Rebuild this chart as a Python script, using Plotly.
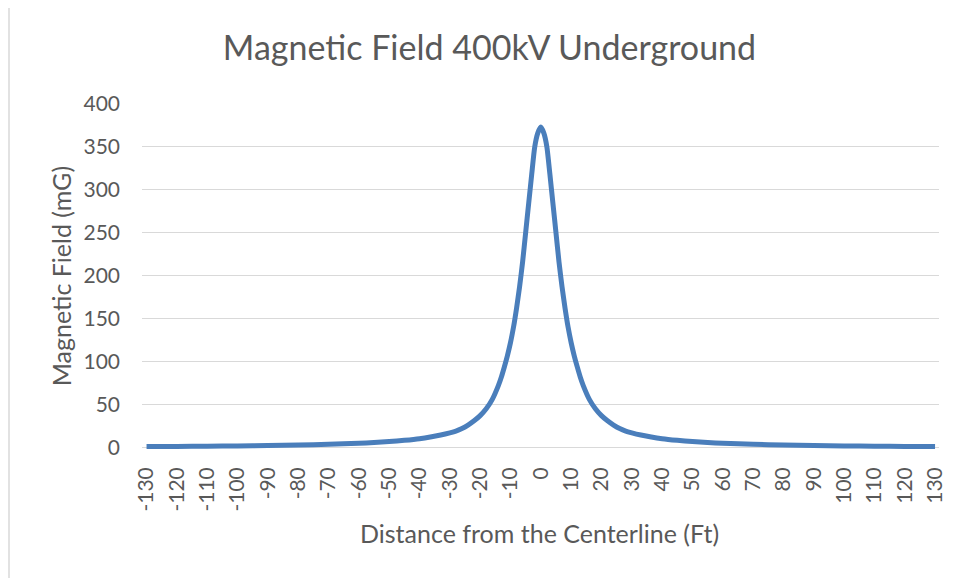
import plotly.graph_objects as go

# Data (distance in ft, field in mG)
distance_ft = [-130, -120, -110, -100, -90, -80, -70, -60, -55, -50, -45, -40, -36, -33,
               -30, -28, -26, -24, -22, -20, -18, -16, -14, -13, -12, -11, -10, -9, -8,
               -7, -6, -5, -4, -3, -2, -1, 0, 1, 2, 3, 4, 5, 6, 7, 8, 9, 10, 11, 12, 13,
               14, 16, 18, 20, 22, 24, 26, 28, 30, 33, 36, 40, 45, 50, 55, 60, 70, 80,
               90, 100, 110, 120, 130]
field_mg = [1.0, 1.2, 1.5, 1.8, 2.2, 2.8, 3.6, 4.8, 5.7, 6.8, 8.3, 10.2, 12.5, 14.5,
            17, 19, 22, 26, 31, 37, 45, 56, 72, 82, 94, 107, 122, 140, 162,
            187, 216, 250, 284, 318, 350, 366, 373, 366, 350, 318, 284, 250, 216, 187,
            162, 140, 122, 107, 94, 82, 72, 56, 45, 37, 31, 26, 22, 19, 17, 14.5, 12.5,
            10.2, 8.3, 6.8, 5.7, 4.8, 3.6, 2.8, 2.2, 1.8, 1.5, 1.2, 1.0]
x_ticks = list(range(-130, 131, 10))

TEXT = "#595959"
GRID = "#D9D9D9"
FONT = "Lato, 'Open Sans', sans-serif"

# the page body adds an 8px offset, so pixel targets are shifted back by it
OFF = 8
W, H = 960, 578
L = 142 - OFF
T = 103 - OFF
R = W - (939 - OFF)
B = H - (450.4 - OFF)
plot_w = W - L - R
plot_h = H - T - B


def px_x(px):
    return (px - OFF - L) / plot_w


def px_y(py):
    return (H - B - (py - OFF)) / plot_h


fig = go.Figure()
fig.add_trace(go.Scatter(x=distance_ft, y=field_mg, mode="lines",
                         line=dict(color="#4A7EBB", width=5, shape="spline", smoothing=0.6),
                         hoverinfo="x+y", showlegend=False))

fig.update_layout(
    width=W, height=H,
    margin=dict(l=L, r=R, t=T, b=B),
    paper_bgcolor="white", plot_bgcolor="white",
    font=dict(family=FONT, color=TEXT, size=20),
    title=dict(text="Magnetic Field 400kV Underground", x=(489.5 - OFF) / W, xanchor="center",
               xref="container", yref="container", y=1 - (48 - OFF) / H, yanchor="middle",
               font=dict(size=34, color=TEXT, family=FONT)),
    xaxis=dict(range=[-131.5, 131.3], tickvals=x_ticks, ticktext=[str(v) for v in x_ticks],
               tickangle=-90, showgrid=False, zeroline=False, showline=False,
               ticks="", ticklabelstandoff=12, tickfont=dict(size=21, color=TEXT)),
    yaxis=dict(range=[-3, 401], tick0=0, dtick=50, showgrid=True, gridcolor=GRID,
               gridwidth=1.3, zeroline=True, zerolinecolor=GRID, zerolinewidth=1.3,
               showline=False, ticks="", ticklabelstandoff=21,
               tickfont=dict(size=21, color=TEXT)),
    annotations=[
        dict(text="Magnetic Field (mG)", textangle=-90, xref="paper", yref="paper",
             x=px_x(61), y=px_y(276.5), xanchor="center", yanchor="middle",
             showarrow=False, font=dict(size=25, color=TEXT)),
        dict(text="Distance from the Centerline (Ft)", xref="paper", yref="paper",
             x=px_x(539.5), y=px_y(533), xanchor="center", yanchor="middle",
             showarrow=False, font=dict(size=25, color=TEXT)),
    ],
    shapes=[
        dict(type="rect", xref="paper", yref="paper", x0=px_x(9), x1=px_x(990),
             y0=px_y(600), y1=px_y(5), line=dict(color=GRID, width=1.5),
             fillcolor="rgba(0,0,0,0)", layer="below"),
    ],
)

fig.write_html("out.html")
